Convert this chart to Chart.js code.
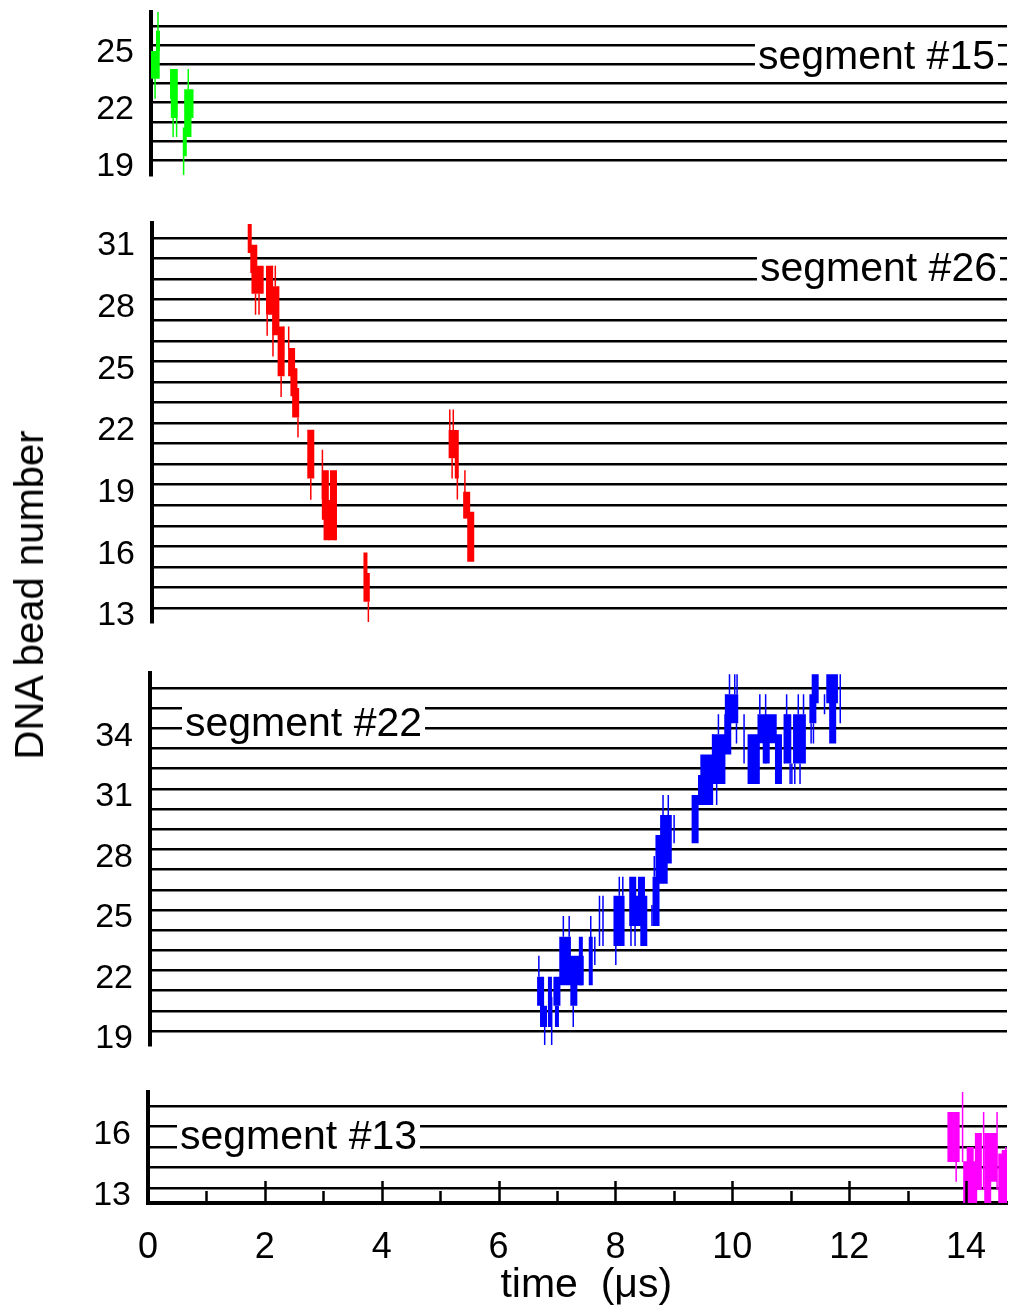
<!DOCTYPE html>
<html>
<head>
<meta charset="utf-8">
<title>DNA bead number vs time</title>
<script src="https://cdn.jsdelivr.net/npm/chart.js@4.4.1/dist/chart.umd.min.js"></script>
<style>
  html, body { margin: 0; padding: 0; background: #fff; }
  #wrap { position: relative; width: 1016px; height: 1312px; overflow: hidden; }
  #wrap canvas { position: absolute; left: 0; }
  #ytitle {
    position: absolute; left: 29px; top: 595px;
    transform: translate(-50%, -50%) rotate(-90deg);
    font: 40px "Liberation Sans", Arial, sans-serif; line-height: 1;
    white-space: nowrap; color: #000;
  }
</style>
</head>
<body>
<div id="wrap">
  <canvas id="p15"></canvas>
  <canvas id="p26"></canvas>
  <canvas id="p22"></canvas>
  <canvas id="p13"></canvas>
  <div id="ytitle">DNA bead number</div>
</div>
<script>
// time axis (µs)
const timeTicks = [0, 2, 4, 6, 8, 10, 12, 14];
const timeMinor = [1, 3, 5, 7, 9, 11, 13];

// every trace piece is [time, bead low, bead high]

// segment #15
const beads15 = [19, 20, 21, 22, 23, 24, 25, 26];
const ticks15 = [19, 22, 25];
const seg15Thick = [[0.05,23.25,24.7],[0.09,23.25,24.7],[0.40,21.2,23.75],[0.63,20.2,22.7],[0.67,21.2,22.7]];
const seg15Mid = [[0.12,24.7,25.75],[0.58,19.2,20.7]];
const seg15Thin = [[0.12,24.7,26.8],[0.07,22.2,23.25],[0.34,22.2,23.75],[0.38,20.2,21.2],[0.44,20.2,21.2],
  [0.64,22.7,23.75],[0.56,18.2,19.2],[0.68,20.2,21.2]];

// segment #26
const beads26 = [13, 14, 15, 16, 17, 18, 19, 20, 21, 22, 23, 24, 25, 26, 27, 28, 29, 30, 31];
const ticks26 = [13, 16, 19, 22, 25, 28, 31];
const seg26Thick = [[1.75,29.3,30.67],[1.77,28.29,29.65],[1.86,28.29,29.65],[2.02,27.27,29.65],[2.13,26.27,28.65],
  [2.22,24.27,26.7],[2.40,24.27,25.65],[2.44,23.3,24.67],[2.47,22.27,23.7],[2.73,19.3,21.67],[2.98,17.3,19.7],
  [3.01,16.3,18.25],[3.12,16.3,19.7],[5.16,20.28,21.66],[5.41,17.36,18.66],[5.48,15.25,17.68]];
const seg26Mid = [[1.68,30.27,31.68],[3.10,17.3,18.7],[3.67,13.3,15.7],[3.71,13.3,14.7],[5.24,19.3,21.66]];
const seg26Thin = [[1.78,27.27,28.29],[1.84,27.27,28.29],[2.07,28.65,29.65],[2.12,28.65,29.65],[1.98,26.24,27.27],
  [2.08,25.24,27.27],[2.22,23.26,24.27],[2.26,25.24,26.7],[2.35,25.6,26.7],[2.51,21.3,22.27],[2.73,18.27,19.3],
  [2.93,18.3,20.7],[3.04,16.3,17.3],[3.14,16.3,17.3],[3.72,12.28,13.3],[5.12,21.66,22.66],[5.18,21.66,22.66],
  [5.16,19.3,20.28],[5.25,18.28,19.71],[5.38,17.35,19.7]];

// segment #22
const beads22 = [19, 20, 21, 22, 23, 24, 25, 26, 27, 28, 29, 30, 31, 32, 33, 34, 35, 36];
const ticks22 = [19, 22, 25, 28, 31, 34];
const seg22Thick = [[6.70,20.25,21.69],[6.75,19.2,20.25],[6.98,20.25,21.69],[7.08,21.27,23.67],[7.16,21.27,23.67],
  [7.19,21.27,22.73],[7.28,21.27,22.73],[7.38,21.27,22.73],[7.27,20.25,21.27],[8.01,23.22,25.7],[8.08,23.22,25.7],
  [8.28,24.2,26.65],[8.35,24.2,25.7],[8.43,24.2,26.65],[8.47,23.22,25.7],[8.68,24.2,26.65],[8.73,26.3,28.71],
  [8.82,26.3,28.71],[8.81,27.3,29.7],[8.89,27.3,29.7],[9.35,28.3,30.69],[9.46,30.2,31.69],[9.50,30.2,32.7],
  [9.60,30.2,32.7],[9.71,31.24,33.7],[9.81,31.24,33.7],[9.91,32.7,34.7],[9.92,34.25,35.69],[10.03,34.25,35.69],
  [10.31,31.24,33.7],[10.40,31.24,33.7],[10.48,33.26,34.7],[10.57,32.26,34.7],[10.69,33.26,34.7],[10.78,31.24,33.7],
  [10.94,32.26,34.7],[11.09,32.26,34.7],[11.19,32.26,34.7],[11.37,34.25,35.69],[11.41,35.24,36.68],
  [11.66,35.24,36.68],[11.74,35.24,36.68],[11.71,33.25,35.24]];
const seg22Mid = [[6.86,19.2,21.69],[6.98,19.2,20.25],[7.39,21.27,23.67],[7.56,21.27,23.67]];
const seg22Thin = [[6.67,21.69,22.73],[6.77,18.3,19.2],[6.89,18.3,20.69],[7.09,23.67,24.7],[7.19,23.67,24.7],
  [7.26,19.2,20.25],[7.56,22.7,24.7],[7.63,22.27,23.67],[7.71,23.22,25.7],[7.77,23.22,25.7],[7.99,22.27,23.67],
  [8.05,25.7,26.65],[8.11,25.7,26.65],[8.25,23.22,24.2],[8.32,23.22,24.2],[8.61,24.2,25.25],[8.65,26.65,27.67],
  [8.80,29.7,30.69],[8.89,29.7,30.69],[8.99,28.3,29.7],[9.65,31.24,33.7],[9.72,30.2,31.24],[9.75,33.7,34.7],
  [9.94,35.69,36.68],[10.03,35.69,36.68],[10.07,35.69,36.68],[10.06,33.25,34.25],[10.19,32.26,34.7],
  [10.46,34.7,35.69],[10.56,32.26,35.69],[10.88,32.26,34.7],[10.92,33.83,35.69],[10.98,31.24,32.26],
  [11.01,31.24,32.26],[11.06,31.24,32.26],[11.15,31.24,32.26],[11.12,34.7,35.69],[11.21,34.7,35.69],
  [11.34,33.25,34.25],[11.38,33.25,34.25],[11.57,34.7,35.69],[11.84,34.25,36.68]];

// segment #13
const beads13 = [13, 14, 15, 16, 17];
const ticks13 = [13, 16];
const seg13Thick = [[13.74,14.27,16.7],[13.83,14.27,16.7],[14.01,12.27,14.3],[14.07,12.27,15.0],[14.13,12.27,14.3],
  [14.21,12.9,15.68],[14.37,12.27,15.68],[14.47,13.3,15.68],[14.61,12.27,14.68],[14.67,12.27,14.85]];
const seg13Mid = [];
const seg13Thin = [[13.83,13.3,14.27],[13.94,14.27,17.68],[14.30,12.9,16.7],[14.53,12.9,16.7],[14.68,12.27,15.0]];

const FONT = '"Liberation Sans", Arial, Helvetica, sans-serif';
Chart.defaults.font.family = FONT;
Chart.defaults.color = '#000';

function toPoints(list) {
  const pts = [];
  list.forEach(([t, lo, hi]) => {
    pts.push({x: t, y: lo}, {x: t, y: hi}, {x: t, y: null});
  });
  return pts;
}

// white-backed "segment #n" label sitting across two grid lines
const segLabelPlugin = {
  id: 'segLabel',
  beforeDatasetsDraw(chart, args, o) {
    if (!o || !o.text) return;
    const {ctx, chartArea: a} = chart;
    const y = chart.scales.y;
    ctx.save();
    ctx.font = '41px ' + FONT;
    const w = ctx.measureText(o.text).width;
    const x0 = o.align === 'right' ? a.right - o.inset - w : a.left + o.inset;
    const top = y.getPixelForValue(o.row + 0.72);
    const bot = y.getPixelForValue(o.row - 0.72);
    ctx.fillStyle = '#fff';
    ctx.fillRect(x0 - 3, top, w + 6, bot - top);
    ctx.fillStyle = '#000';
    ctx.textBaseline = 'alphabetic';
    ctx.fillText(o.text, x0, y.getPixelForValue(o.row) + 14 + (o.dy || 0));
    ctx.restore();
  }
};

// inward time ticks and the time title on the bottom panel
const timeAxisPlugin = {
  id: 'timeAxis',
  afterDraw(chart, args, o) {
    if (!o || !o.title) return;
    const {ctx, chartArea: a} = chart;
    const x = chart.scales.x;
    ctx.save();
    ctx.strokeStyle = '#000';
    ctx.lineWidth = 2.5;
    ctx.beginPath();
    timeTicks.forEach(v => {
      if (v === 0) return;
      const px = Math.round(x.getPixelForValue(v)) + 0.5;
      ctx.moveTo(px, a.bottom); ctx.lineTo(px, a.bottom - 22);
    });
    timeMinor.forEach(v => {
      const px = Math.round(x.getPixelForValue(v)) + 0.5;
      ctx.moveTo(px, a.bottom); ctx.lineTo(px, a.bottom - 12);
    });
    ctx.stroke();
    ctx.font = '41px ' + FONT;
    ctx.textAlign = 'center';
    ctx.textBaseline = 'middle';
    // axis runs 0-15 µs in the source, title centred on that span
    ctx.fillText(o.title, x.getPixelForValue(7.5), a.bottom + 83);
    ctx.restore();
  }
};

const widths = {thin: 1.5, mid: 4, thick: 7};

function noEdgePadding(s) {
  s.paddingTop = 0; s.paddingBottom = 0; s.paddingLeft = 0; s.paddingRight = 0;
}

function makePanel(p) {
  const cv = document.getElementById(p.id);
  const xAxisH = p.bottom ? 109 : 0;
  cv.width = 1016;
  cv.height = p.areaBottom - p.areaTop + p.padTop + (p.bottom ? xAxisH : p.padBottom);
  cv.style.top = (p.areaTop - p.padTop) + 'px';

  const datasets = Object.keys(p.layers).map(k => ({
    data: toPoints(p.layers[k]),
    borderColor: p.color,
    borderWidth: widths[k],
    borderCapStyle: 'butt',
    pointRadius: 0,
    spanGaps: false,
    fill: false,
    tension: 0
  }));

  return new Chart(cv, {
    type: 'line',
    data: {datasets},
    options: {
      responsive: false,
      animation: false,
      events: [],
      layout: {padding: {top: p.padTop, bottom: p.bottom ? 0 : p.padBottom, left: 0, right: 9}},
      plugins: {
        legend: {display: false},
        tooltip: {enabled: false},
        segLabel: p.label,
        timeAxis: p.bottom ? {title: 'time  (\u03bcs)'} : {}
      },
      scales: {
        x: {
          type: 'linear', min: 0, max: 14.7,
          display: !!p.bottom,
          grid: {display: false},
          border: {display: true, color: '#000', width: 4},
          afterBuildTicks: s => { s.ticks = timeTicks.map(v => ({value: v})); },
          afterFit: s => { s.height = xAxisH; noEdgePadding(s); },
          ticks: {font: {size: 36}, color: '#000', padding: 15, maxRotation: 0, autoSkip: false}
        },
        y: {
          type: 'linear', min: p.yMin, max: p.yMax,
          afterBuildTicks: s => { s.ticks = p.beads.map(v => ({value: v})); },
          afterFit: s => { s.width = p.axisX; noEdgePadding(s); },
          grid: {color: '#000', lineWidth: 2.5, drawTicks: false},
          border: {display: true, color: '#000', width: 4},
          ticks: {
            callback: v => p.tickLabels.includes(v) ? String(v) : '',
            font: {size: 34}, color: '#000', padding: 17,
            labelOffset: p.labelOffset, autoSkip: false
          }
        }
      }
    },
    plugins: [segLabelPlugin, timeAxisPlugin]
  });
}

makePanel({
  id: 'p15', areaTop: 12, areaBottom: 175, padTop: 10, padBottom: 20, axisX: 151,
  yMin: 18.22, yMax: 26.73, beads: beads15, tickLabels: ticks15, labelOffset: 7,
  color: '#00ff00', layers: {thin: seg15Thin, mid: seg15Mid, thick: seg15Thick},
  label: {text: 'segment #15', row: 24.5, align: 'right', inset: 12}
});
makePanel({
  id: 'p26', areaTop: 223, areaBottom: 622, padTop: 20, padBottom: 20, axisX: 152,
  yMin: 12.32, yMax: 31.73, beads: beads26, tickLabels: ticks26, labelOffset: 8,
  color: '#ff0000', layers: {thin: seg26Thin, mid: seg26Mid, thick: seg26Thick},
  label: {text: 'segment #26', row: 29.5, align: 'right', inset: 10, dy: -2}
});
makePanel({
  id: 'p22', areaTop: 673, areaBottom: 1045, padTop: 20, padBottom: 20, axisX: 150,
  yMin: 18.31, yMax: 36.74, beads: beads22, tickLabels: ticks22, labelOffset: 8,
  color: '#0000ff', layers: {thin: seg22Thin, mid: seg22Mid, thick: seg22Thick},
  label: {text: 'segment #22', row: 34.5, align: 'left', inset: 35, dy: 4}
});
makePanel({
  id: 'p13', areaTop: 1092, areaBottom: 1203, padTop: 20, padBottom: 0, axisX: 148, bottom: true,
  yMin: 12.27, yMax: 17.68, beads: beads13, tickLabels: ticks13, labelOffset: 8,
  color: '#ff00ff', layers: {thin: seg13Thin, mid: seg13Mid, thick: seg13Thick},
  label: {text: 'segment #13', row: 15.5, align: 'left', inset: 32, dy: -2}
});
</script>
</body>
</html>
